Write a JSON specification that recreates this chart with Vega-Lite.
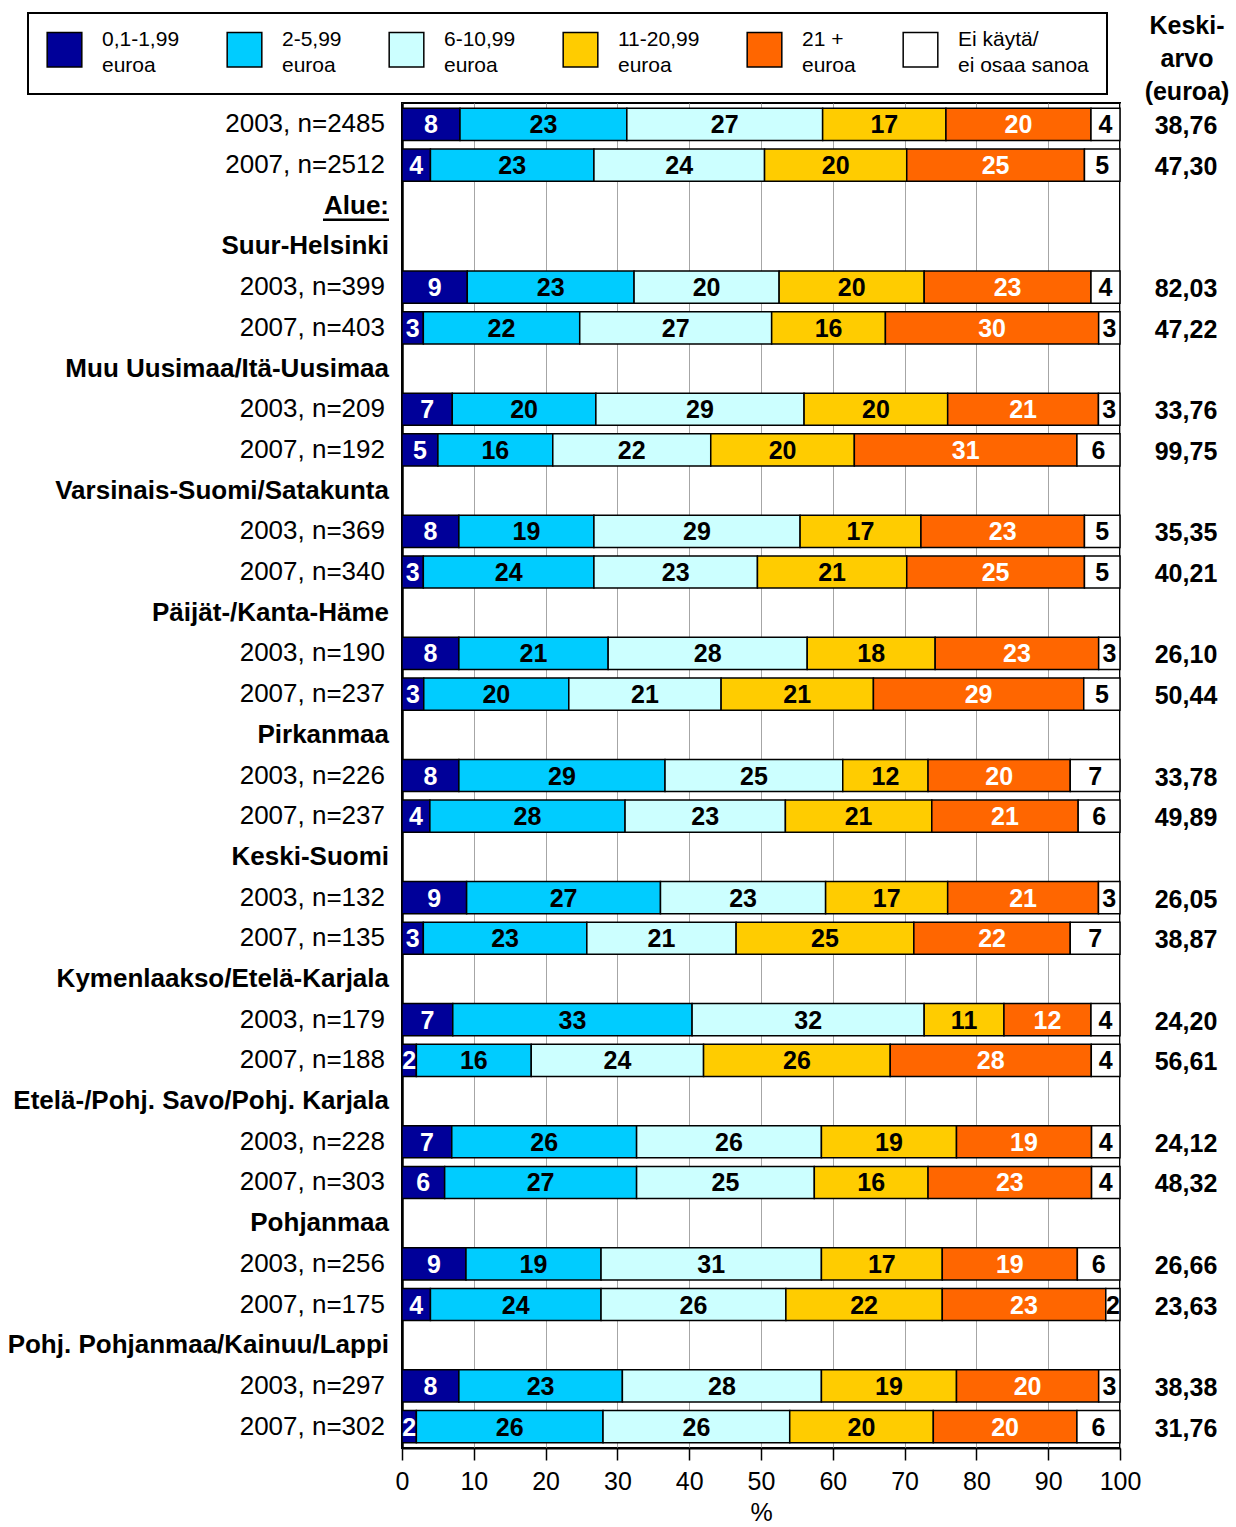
{
  "$schema": "https://vega.github.io/schema/vega-lite/v6.json",
  "width": 718,
  "height": 1345,
  "autosize": {"type": "none"},
  "padding": {"left": 402, "top": 103, "right": 116, "bottom": 79},
  "config": {
    "font": "Liberation Sans",
    "view": {"stroke": "black", "strokeWidth": 2},
    "style": {"guide-label": {"lineHeight": 26}},
    "legend": {"strokeWidth": 2}
  },
  "datasets": {
    "rows": [
      {"r": 1, "label": "2003, n=2485", "mean": "38,76", "k1": 8, "k2": 23, "k3": 27, "k4": 17, "k5": 20, "k6": 4},
      {"r": 2, "label": "2007, n=2512", "mean": "47,30", "k1": 4, "k2": 23, "k3": 24, "k4": 20, "k5": 25, "k6": 5},
      {"r": 3, "label": "Alue:", "h": true},
      {"r": 4, "label": "Suur-Helsinki", "h": true},
      {"r": 5, "label": "2003, n=399", "mean": "82,03", "k1": 9, "k2": 23, "k3": 20, "k4": 20, "k5": 23, "k6": 4},
      {"r": 6, "label": "2007, n=403", "mean": "47,22", "k1": 3, "k2": 22, "k3": 27, "k4": 16, "k5": 30, "k6": 3},
      {"r": 7, "label": "Muu Uusimaa/Itä-Uusimaa", "h": true},
      {"r": 8, "label": "2003, n=209", "mean": "33,76", "k1": 7, "k2": 20, "k3": 29, "k4": 20, "k5": 21, "k6": 3},
      {"r": 9, "label": "2007, n=192", "mean": "99,75", "k1": 5, "k2": 16, "k3": 22, "k4": 20, "k5": 31, "k6": 6},
      {"r": 10, "label": "Varsinais-Suomi/Satakunta", "h": true},
      {"r": 11, "label": "2003, n=369", "mean": "35,35", "k1": 8, "k2": 19, "k3": 29, "k4": 17, "k5": 23, "k6": 5},
      {"r": 12, "label": "2007, n=340", "mean": "40,21", "k1": 3, "k2": 24, "k3": 23, "k4": 21, "k5": 25, "k6": 5},
      {"r": 13, "label": "Päijät-/Kanta-Häme", "h": true},
      {"r": 14, "label": "2003, n=190", "mean": "26,10", "k1": 8, "k2": 21, "k3": 28, "k4": 18, "k5": 23, "k6": 3},
      {"r": 15, "label": "2007, n=237", "mean": "50,44", "k1": 3, "k2": 20, "k3": 21, "k4": 21, "k5": 29, "k6": 5},
      {"r": 16, "label": "Pirkanmaa", "h": true},
      {"r": 17, "label": "2003, n=226", "mean": "33,78", "k1": 8, "k2": 29, "k3": 25, "k4": 12, "k5": 20, "k6": 7},
      {"r": 18, "label": "2007, n=237", "mean": "49,89", "k1": 4, "k2": 28, "k3": 23, "k4": 21, "k5": 21, "k6": 6},
      {"r": 19, "label": "Keski-Suomi", "h": true},
      {"r": 20, "label": "2003, n=132", "mean": "26,05", "k1": 9, "k2": 27, "k3": 23, "k4": 17, "k5": 21, "k6": 3},
      {"r": 21, "label": "2007, n=135", "mean": "38,87", "k1": 3, "k2": 23, "k3": 21, "k4": 25, "k5": 22, "k6": 7},
      {"r": 22, "label": "Kymenlaakso/Etelä-Karjala", "h": true},
      {"r": 23, "label": "2003, n=179", "mean": "24,20", "k1": 7, "k2": 33, "k3": 32, "k4": 11, "k5": 12, "k6": 4},
      {"r": 24, "label": "2007, n=188", "mean": "56,61", "k1": 2, "k2": 16, "k3": 24, "k4": 26, "k5": 28, "k6": 4},
      {"r": 25, "label": "Etelä-/Pohj. Savo/Pohj. Karjala", "h": true},
      {"r": 26, "label": "2003, n=228", "mean": "24,12", "k1": 7, "k2": 26, "k3": 26, "k4": 19, "k5": 19, "k6": 4},
      {"r": 27, "label": "2007, n=303", "mean": "48,32", "k1": 6, "k2": 27, "k3": 25, "k4": 16, "k5": 23, "k6": 4},
      {"r": 28, "label": "Pohjanmaa", "h": true},
      {"r": 29, "label": "2003, n=256", "mean": "26,66", "k1": 9, "k2": 19, "k3": 31, "k4": 17, "k5": 19, "k6": 6},
      {"r": 30, "label": "2007, n=175", "mean": "23,63", "k1": 4, "k2": 24, "k3": 26, "k4": 22, "k5": 23, "k6": 2},
      {"r": 31, "label": "Pohj. Pohjanmaa/Kainuu/Lappi", "h": true},
      {"r": 32, "label": "2003, n=297", "mean": "38,38", "k1": 8, "k2": 23, "k3": 28, "k4": 19, "k5": 20, "k6": 3},
      {"r": 33, "label": "2007, n=302", "mean": "31,76", "k1": 2, "k2": 26, "k3": 26, "k4": 20, "k5": 20, "k6": 6}
    ],
    "cats": [
      {"key": "k1", "cat": "0,1-1,99 euroa"},
      {"key": "k2", "cat": "2-5,99 euroa"},
      {"key": "k3", "cat": "6-10,99 euroa"},
      {"key": "k4", "cat": "11-20,99 euroa"},
      {"key": "k5", "cat": "21 + euroa"},
      {"key": "k6", "cat": "Ei käytä/ ei osaa sanoa"}
    ]
  },
  "data": {"name": "rows"},
  "encoding": {
    "y": {
      "field": "r",
      "type": "ordinal",
      "scale": {
        "domain": [1,2,3,4,5,6,7,8,9,10,11,12,13,14,15,16,17,18,19,20,21,22,23,24,25,26,27,28,29,30,31,32,33],
        "paddingInner": 0.21,
        "paddingOuter": 0.13
      },
      "axis": {"labels": false, "ticks": false, "title": null, "domain": true, "domainColor": "black", "domainWidth": 2.5, "grid": false}
    }
  },
  "layer": [
    {
      "transform": [
        {"fold": ["k1", "k2", "k3", "k4", "k5", "k6"], "as": ["key", "v"]},
        {"filter": "isValid(datum.v)"},
        {"lookup": "key", "from": {"data": {"name": "cats"}, "key": "key", "fields": ["cat"]}}
      ],
      "mark": {"type": "bar", "stroke": "black", "strokeWidth": 1.5},
      "encoding": {
        "x": {
          "field": "v",
          "type": "quantitative",
          "stack": "normalize",
          "scale": {"domain": [0, 1], "nice": false},
          "axis": {
            "values": [0, 0.1, 0.2, 0.3, 0.4, 0.5, 0.6, 0.7, 0.8, 0.9, 1],
            "labelExpr": "round(datum.value * 100)",
            "labelFlush": false,
            "title": "%",
            "grid": true,
            "gridColor": "#a6a6a6",
            "gridWidth": 1,
            "domainColor": "black",
            "domainWidth": 2,
            "tickColor": "black",
            "tickWidth": 1.5,
            "tickSize": 12,
            "labelFontSize": 25,
            "labelColor": "black",
            "labelPadding": 9,
            "titleFontSize": 25,
            "titleFontWeight": "normal",
            "titleColor": "black",
            "titlePadding": 6
          }
        },
        "color": {
          "field": "cat",
          "type": "nominal",
          "sort": ["0,1-1,99 euroa", "2-5,99 euroa", "6-10,99 euroa", "11-20,99 euroa", "21 + euroa", "Ei käytä/ ei osaa sanoa"],
          "scale": {
            "domain": ["0,1-1,99 euroa", "2-5,99 euroa", "6-10,99 euroa", "11-20,99 euroa", "21 + euroa", "Ei käytä/ ei osaa sanoa"],
            "range": ["#000099", "#00CCFF", "#CCFFFF", "#FFCC00", "#FF6600", "#FFFFFF"]
          },
          "legend": {
            "orient": "none",
            "legendX": -374,
            "legendY": -90,
            "direction": "horizontal",
            "columns": 6,
            "title": null,
            "symbolType": "square",
            "symbolSize": 1200,
            "symbolStrokeColor": "black",
            "symbolStrokeWidth": 1.5,
            "labelFontSize": 21,
            "labelColor": "black",
            "labelOffset": 19,
            "labelBaseline": "bottom",
            "labelLimit": 300,
            "columnPadding": 44,
            "padding": 18,
            "strokeColor": "black",
            "fillColor": "white",
            "labelExpr": "datum.label == 'Ei käytä/ ei osaa sanoa' ? ['Ei käytä/', 'ei osaa sanoa'] : [replace(datum.label, ' euroa', ''), 'euroa']"
          }
        },
        "order": {"field": "key"}
      }
    },
    {
      "transform": [
        {"fold": ["k1", "k2", "k3", "k4", "k5", "k6"], "as": ["key", "v"]},
        {"filter": "isValid(datum.v)"}
      ],
      "mark": {"type": "text", "fontSize": 25, "fontWeight": "bold", "baseline": "middle", "align": "center", "dy": 1},
      "encoding": {
        "x": {"field": "v", "type": "quantitative", "stack": "normalize", "bandPosition": 0.5},
        "detail": {"field": "key"},
        "order": {"field": "key"},
        "text": {"field": "v", "type": "quantitative"},
        "color": {"condition": {"test": "datum.key == 'k1' || datum.key == 'k5'", "value": "white"}, "value": "black"}
      }
    },
    {
      "transform": [{"filter": "!datum.h"}],
      "mark": {"type": "text", "fontSize": 26, "align": "right", "baseline": "middle", "dx": -17, "color": "black"},
      "encoding": {
        "x": {"datum": 0, "type": "quantitative"},
        "text": {"field": "label"}
      }
    },
    {
      "transform": [{"filter": "datum.h"}],
      "mark": {"type": "text", "fontSize": 26, "fontWeight": "bold", "align": "right", "baseline": "middle", "dx": -13, "color": "black"},
      "encoding": {
        "x": {"datum": 0, "type": "quantitative"},
        "text": {"field": "label"}
      }
    },
    {
      "transform": [{"filter": "datum.label == 'Alue:'"}],
      "mark": {"type": "rule", "color": "black", "strokeWidth": 2.5, "xOffset": -79, "x2Offset": -13, "yOffset": 14},
      "encoding": {
        "x": {"datum": 0, "type": "quantitative"},
        "x2": {"datum": 0}
      }
    },
    {
      "transform": [{"filter": "!datum.h"}],
      "mark": {"type": "text", "fontSize": 25, "fontWeight": "bold", "align": "center", "baseline": "middle", "dx": 66, "dy": 2, "color": "black"},
      "encoding": {
        "x": {"datum": 1, "type": "quantitative"},
        "text": {"field": "mean"}
      }
    },
    {
      "transform": [{"filter": "datum.r == 1"}],
      "mark": {"type": "text", "text": ["Keski-", "arvo", "(euroa)"], "fontSize": 25, "fontWeight": "bold", "align": "center", "baseline": "alphabetic", "lineHeight": 33, "dx": 67, "dy": -90, "color": "black"},
      "encoding": {
        "x": {"datum": 1, "type": "quantitative"}
      }
    }
  ]
}
